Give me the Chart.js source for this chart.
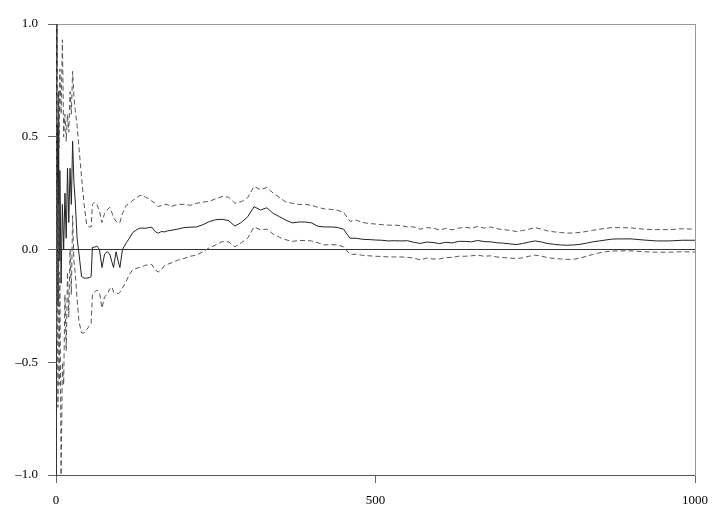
<!DOCTYPE html>
<html>
<head>
<meta charset="utf-8">
<script src="https://cdn.jsdelivr.net/npm/chart.js@4"></script>
<style>
  html, body { margin: 0; padding: 0; background: #fff; }
  #wrap { width: 727px; height: 512px; }
</style>
</head>
<body>
<div id="wrap"><canvas id="grafico" width="727" height="512"></canvas></div>
<script>
// x positions (iterations)
const xs = [
  0, 1, 2, 3, 4, 5, 6, 8, 10, 12,
  14, 16, 18, 20, 22, 24, 26, 28, 30, 33,
  36, 40, 44, 48, 52, 55, 57, 60, 64, 68,
  72, 76, 80, 84, 88, 90, 94, 98, 100, 104,
  110, 115, 120, 125, 130, 135, 140, 145, 150, 155,
  160, 165, 170, 175, 180, 190, 200, 210, 220, 230,
  240, 250, 260, 270, 280, 290, 300, 310, 320, 330,
  340, 350, 360, 370, 380, 390, 400, 410, 420, 430,
  440, 450, 460, 470, 480, 490, 500, 510, 520, 530,
  540, 550, 560, 570, 580, 590, 600, 610, 620, 630,
  640, 650, 660, 670, 680, 690, 700, 710, 720, 730,
  740, 750, 760, 770, 780, 790, 800, 810, 820, 830,
  840, 850, 860, 870, 880, 900, 920, 940, 960, 980,
  1000
];

// estimativa central (linha cheia)
const estimativa = [
  1.0, 0.1, 0.56, -0.25, 0.7, -0.05, 0.35, -0.15, 0.2, 0.0,
  0.25, 0.05, 0.36, 0.12, 0.36, 0.2, 0.48, 0.3, 0.22, 0.05,
  -0.02, -0.12, -0.127, -0.127, -0.125, -0.12, 0.01, 0.01, 0.015, 0.0,
  -0.08, -0.02, -0.01, -0.02, -0.06, -0.08, -0.01, -0.06, -0.08, 0.0,
  0.03, 0.05, 0.075, 0.085, 0.094, 0.095, 0.094, 0.097, 0.099, 0.08,
  0.072, 0.08, 0.078, 0.083, 0.085, 0.09, 0.097, 0.099, 0.1, 0.11,
  0.124, 0.132, 0.134, 0.128, 0.104, 0.12, 0.145, 0.19, 0.175, 0.185,
  0.16, 0.145, 0.13, 0.118, 0.122, 0.122, 0.118, 0.103, 0.1, 0.1,
  0.098, 0.09, 0.05, 0.05, 0.045, 0.044, 0.042, 0.041, 0.038, 0.039,
  0.038, 0.039, 0.032, 0.027, 0.033, 0.031, 0.026, 0.032, 0.029, 0.036,
  0.036, 0.034, 0.04, 0.035, 0.034, 0.03, 0.028, 0.025, 0.022, 0.026,
  0.033, 0.038, 0.033, 0.026, 0.023, 0.02, 0.019, 0.02, 0.023, 0.028,
  0.034, 0.038, 0.042, 0.046, 0.047, 0.047, 0.042, 0.038, 0.038, 0.041,
  0.041
];

// limite superior (tracejado)
const superior = [
  1.0, 0.3, 1.0, 0.55, 0.7, 0.45, 0.8, 0.6, 0.93, 0.5,
  0.6, 0.48, 0.6, 0.52, 0.7, 0.6, 0.79, 0.68, 0.62, 0.55,
  0.45, 0.32, 0.2, 0.11, 0.1, 0.1, 0.2, 0.21, 0.2, 0.17,
  0.12, 0.16, 0.175, 0.187, 0.16, 0.14, 0.125, 0.117, 0.12, 0.16,
  0.196, 0.205, 0.218, 0.225, 0.238, 0.24, 0.232, 0.225, 0.215, 0.205,
  0.19, 0.195, 0.2, 0.198, 0.19, 0.2, 0.2, 0.196, 0.205, 0.21,
  0.214, 0.225, 0.235, 0.232, 0.205, 0.212, 0.23, 0.28, 0.265, 0.275,
  0.25, 0.23, 0.21, 0.205, 0.2, 0.2, 0.196, 0.187, 0.18, 0.178,
  0.174, 0.165, 0.125, 0.13, 0.12, 0.115, 0.113, 0.11, 0.108, 0.108,
  0.106, 0.1, 0.1, 0.09, 0.097, 0.095, 0.087, 0.093, 0.087, 0.095,
  0.098, 0.095, 0.102, 0.095, 0.1, 0.092, 0.088, 0.085, 0.08, 0.084,
  0.09, 0.097, 0.09, 0.082, 0.078, 0.075, 0.073, 0.073, 0.076, 0.08,
  0.085, 0.09, 0.094, 0.097, 0.097, 0.096, 0.09, 0.088, 0.088, 0.092,
  0.09
];

// limite inferior (tracejado)
const inferior = [
  1.0, -0.4, 0.3, -0.7, 0.2, -0.6, -0.1, -1.0, -0.5, -0.6,
  -0.2, -0.45, -0.1, -0.3, 0.0, -0.2, 0.15, -0.05, -0.1, -0.22,
  -0.32, -0.37, -0.37, -0.355, -0.34, -0.33, -0.2, -0.19, -0.18, -0.19,
  -0.26, -0.21, -0.2, -0.175, -0.167, -0.19, -0.195, -0.195, -0.19, -0.17,
  -0.14, -0.11, -0.09, -0.085, -0.08, -0.075, -0.07, -0.068, -0.067, -0.09,
  -0.1, -0.09, -0.07, -0.065, -0.06, -0.048, -0.04, -0.03, -0.025, -0.01,
  0.008, 0.02, 0.035, 0.034, 0.012, 0.03, 0.05, 0.1, 0.087, 0.09,
  0.068, 0.054, 0.043, 0.036, 0.04, 0.04, 0.038, 0.03, 0.02, 0.022,
  0.02, 0.012, -0.022, -0.021, -0.026, -0.028, -0.03, -0.031, -0.033, -0.033,
  -0.033, -0.035, -0.038, -0.046, -0.038, -0.042, -0.042, -0.036, -0.035, -0.03,
  -0.03, -0.028, -0.025, -0.03, -0.028, -0.033, -0.036, -0.038, -0.04, -0.037,
  -0.03, -0.025, -0.03, -0.036, -0.04, -0.042, -0.044, -0.043, -0.038, -0.03,
  -0.022, -0.015, -0.01, -0.007, -0.006, -0.006, -0.01, -0.012, -0.012, -0.01,
  -0.011
];

const xTicks = [0, 500, 1000];
const yTicks = [-1.0, -0.5, 0.0, 0.5, 1.0];

function pontos(valores) {
  return xs.map((x, i) => ({ x: x, y: valores[i] }));
}

Chart.defaults.font.family = "'Liberation Serif', 'DejaVu Serif', serif";
Chart.defaults.font.size = 13;
Chart.defaults.color = '#000';

const ctx = document.getElementById('grafico').getContext('2d');
const chart = new Chart(ctx, {
  type: 'line',
  data: {
    datasets: [
      {
        data: pontos(superior),
        borderColor: '#555',
        borderWidth: 1,
        borderDash: [5, 3],
        pointRadius: 0,
        tension: 0
      },
      {
        data: pontos(inferior),
        borderColor: '#555',
        borderWidth: 1,
        borderDash: [5, 3],
        pointRadius: 0,
        tension: 0
      },
      {
        data: pontos(estimativa),
        borderColor: '#222',
        borderWidth: 1,
        pointRadius: 0,
        tension: 0
      }
    ]
  },
  options: {
    responsive: false,
    animation: false,
    layout: { padding: { top: 24, right: 32, left: 0, bottom: 0 } },
    plugins: {
      legend: { display: false },
      tooltip: { enabled: false }
    },
    scales: {
      x: {
        type: 'linear',
        min: 0,
        max: 1000,
        afterBuildTicks: s => { s.ticks = xTicks.map(v => ({ value: v })); },
        afterFit: s => { s.height = 37; },
        ticks: { padding: 10, maxRotation: 0, autoSkip: false, callback: v => String(v) },
        grid: { drawOnChartArea: false, drawTicks: true, tickLength: 8, color: '#666' },
        border: { display: true, color: '#555', width: 1 }
      },
      y: {
        type: 'linear',
        min: -1,
        max: 1,
        afterBuildTicks: s => { s.ticks = yTicks.map(v => ({ value: v })); },
        afterFit: s => { s.width = 56; },
        ticks: {
          padding: 10,
          callback: v => (v < 0 ? '\u2013' : '') + Math.abs(v).toFixed(1)
        },
        grid: {
          drawOnChartArea: true,
          drawTicks: true,
          tickLength: 8,
          color: c => (c.tick && c.tick.value === 0 ? '#333' : 'rgba(0,0,0,0)'),
          tickColor: '#666'
        },
        border: { display: true, color: '#333', width: 1 }
      },
      x2: {
        type: 'linear',
        position: 'top',
        min: 0,
        max: 1000,
        afterFit: s => { s.height = 0; },
        ticks: { display: false },
        grid: { display: false, drawTicks: false },
        border: { display: true, color: '#999', width: 1 }
      },
      y2: {
        type: 'linear',
        position: 'right',
        min: -1,
        max: 1,
        afterFit: s => { s.width = 0; },
        ticks: { display: false },
        grid: { display: false, drawTicks: false },
        border: { display: true, color: '#999', width: 1 }
      }
    }
  }
});
</script>
</body>
</html>
